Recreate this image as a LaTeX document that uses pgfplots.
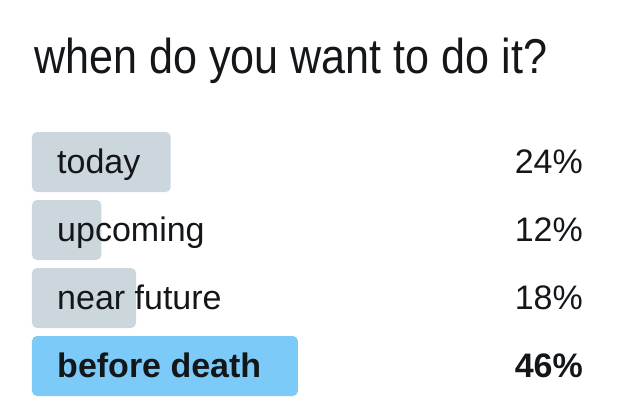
\documentclass[border=0pt]{standalone}
\usepackage{pgfplots}
\pgfplotsset{compat=1.18}
\usepackage{fontspec}
\setmainfont{Liberation Sans}
\definecolor{pollgrey}{HTML}{CCD6DD}
\definecolor{pollblue}{HTML}{7BCAF8}
\definecolor{txt}{HTML}{14171A}
\begin{document}
\begin{tikzpicture}
\begin{axis}[
  scale only axis, width=640bp, height=407bp,
  xmin=-5.536, xmax=105.19,
  ymin=0, ymax=407, y dir=reverse,
  hide axis, clip=false,
  xbar, bar width=60bp, bar shift=0pt,
]
\path (rel axis cs:0,0) rectangle (rel axis cs:1,1);
\addplot[fill=pollgrey, draw=none, rounded corners=5bp] coordinates {(24,162) (12,230) (18,298)};
\addplot[fill=pollblue, draw=none, rounded corners=5bp] coordinates {(46,366)};
% title
\node[anchor=base west, inner sep=0pt, text=txt] at (axis cs:0.35,73)
  {\scalebox{0.88}[1]{\fontsize{49bp}{56bp}\selectfont when do you want to do it?}};
% labels
\node[anchor=base west, inner sep=0pt, text=txt, font=\fontsize{34bp}{40bp}\selectfont] at (axis cs:4.33,173) {today};
\node[anchor=base west, inner sep=0pt, text=txt, font=\fontsize{34bp}{40bp}\selectfont] at (axis cs:4.33,241) {upcoming};
\node[anchor=base west, inner sep=0pt, text=txt, font=\fontsize{34bp}{40bp}\selectfont] at (axis cs:4.33,309) {near future};
\node[anchor=base west, inner sep=0pt, text=txt, font=\fontsize{34bp}{40bp}\selectfont\bfseries] at (axis cs:4.33,377) {before death};
% percents
\node[anchor=base east, inner sep=0pt, text=txt, font=\fontsize{34bp}{40bp}\selectfont] at (axis cs:95.33,173) {24\%};
\node[anchor=base east, inner sep=0pt, text=txt, font=\fontsize{34bp}{40bp}\selectfont] at (axis cs:95.33,241) {12\%};
\node[anchor=base east, inner sep=0pt, text=txt, font=\fontsize{34bp}{40bp}\selectfont] at (axis cs:95.33,309) {18\%};
\node[anchor=base east, inner sep=0pt, text=txt, font=\fontsize{34bp}{40bp}\selectfont\bfseries] at (axis cs:95.33,377) {46\%};
\end{axis}
\end{tikzpicture}
\end{document}
